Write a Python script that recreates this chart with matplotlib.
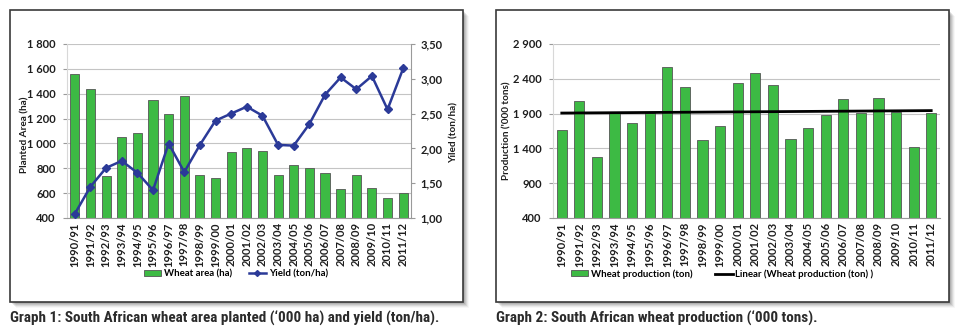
import numpy as np
import matplotlib
matplotlib.use("Agg")
import matplotlib.pyplot as plt
from matplotlib.patches import Rectangle, Patch
from matplotlib.lines import Line2D
from matplotlib.ticker import FuncFormatter

seasons = ["1990/91", "1991/92", "1992/93", "1993/94", "1994/95", "1995/96",
           "1996/97", "1997/98", "1998/99", "1999/00", "2000/01", "2001/02",
           "2002/03", "2003/04", "2004/05", "2005/06", "2006/07", "2007/08",
           "2008/09", "2009/10", "2010/11", "2011/12"]
area = [1560, 1435, 740, 1050, 1080, 1350, 1240, 1380, 745, 720, 935, 960,
        940, 745, 830, 800, 765, 630, 745, 640, 560, 605]
yield_t = [1.06, 1.45, 1.72, 1.82, 1.65, 1.40, 2.07, 1.66, 2.05, 2.40, 2.50,
           2.60, 2.47, 2.05, 2.04, 2.35, 2.77, 3.02, 2.85, 3.04, 2.56, 3.15]
production = [1665, 2080, 1270, 1905, 1770, 1905, 2565, 2280, 1525, 1720,
              2345, 2490, 2315, 1535, 1700, 1885, 2115, 1905, 2125, 1930,
              1425, 1905]

GREEN = "#3dba44"
EDGE = "#555555"
BLUE = "#2b3a98"
GRID = "#c4c4c4"
AXC = "#9a9a9a"
INK = "#1e1e1e"
FONT = ["Lato", "DejaVu Sans"]
CAP_FONT = ["Noto Sans ExtraCondensed", "Noto Sans Condensed", "Roboto Condensed",
            "Liberation Sans Narrow", "Roboto"]

W, H = 960, 332
fig = plt.figure(figsize=(W / 100, H / 100), dpi=100)
plt.rcParams["font.family"] = FONT


def px(x0, y0, x1, y1):            # pixel box -> figure fraction rect
    return [x0 / W, 1 - y1 / H, (x1 - x0) / W, (y1 - y0) / H]


def frame(x0, y0, x1, y1):
    # soft drop shadow, then the white panel with a dark border
    for i, a in enumerate([0.10, 0.10, 0.09, 0.07, 0.05, 0.03]):
        d = 1 + i
        r = Rectangle(((x0 + d) / W, 1 - (y1 + d) / H), (x1 - x0) / W, (y1 - y0) / H,
                      transform=fig.transFigure, facecolor="black", alpha=a,
                      edgecolor="none", zorder=0)
        fig.add_artist(r)
    fig.add_artist(Rectangle((x0 / W, 1 - y1 / H), (x1 - x0) / W, (y1 - y0) / H,
                             transform=fig.transFigure, facecolor="white",
                             edgecolor="#3a3a3a", lw=1.2, zorder=0.5))


def space_fmt(v, _):
    return f"{int(v):,}".replace(",", " ")


def style(ax):
    ax.set_xlim(-0.5, len(seasons) - 0.5)
    ax.set_xticks(range(len(seasons)))
    ax.set_xticklabels(seasons, rotation=90, fontsize=8, fontweight="bold", color=INK)
    ax.tick_params(axis="x", length=0, pad=3)
    ax.tick_params(axis="y", length=3, color=AXC, pad=5, labelsize=8, labelcolor=INK)
    for lab in ax.get_yticklabels():
        lab.set_fontweight("bold")
    ax.grid(True, axis="y", color=GRID, lw=0.8)
    ax.set_axisbelow(True)
    for sp in ("top", "right"):
        ax.spines[sp].set_visible(False)
    ax.spines["bottom"].set_color(AXC)
    ax.spines["left"].set_color("#d8d8d8")
    ax.patch.set_alpha(0)


def caption(x0, text, width):
    # condensed bold caption; shrink only if the available face is too wide
    t = fig.text(x0 / W, 1 - 318 / H, text, family=CAP_FONT, fontstretch="condensed",
                 fontweight="bold", fontsize=13, color="#2b2b2b", va="center")
    fig.canvas.draw()
    w = t.get_window_extent().width
    if w > width:
        t.set_fontsize(13 * width / w)
    return t


LEG = dict(ncol=2, frameon=False, loc="center",
           prop=dict(family=FONT, weight="bold", size=6.9),
           handlelength=1.8, handletextpad=0.3, handleheight=0.6)

frame(10, 10, 463, 302)
frame(496, 10, 949, 302)

# ---- Graph 1: area + yield
x = np.arange(len(seasons))
ax1 = fig.add_axes(px(67, 44, 411, 218), zorder=2)
ax1.bar(x, area, width=0.58, color=GREEN, edgecolor=EDGE, lw=0.6)
ax1.set_ylim(400, 1800)
ax1.set_yticks(range(400, 1801, 200))
ax1.yaxis.set_major_formatter(FuncFormatter(space_fmt))
style(ax1)
for lab in ax1.get_yticklabels():
    lab.set_fontweight("bold")
ax1.set_ylabel("Planted Area (ha)", fontsize=7.2, fontweight="bold", color=INK)
ax1.yaxis.set_label_coords(-0.108, 0.48)

ax1r = ax1.twinx()
ax1r.plot(x, yield_t, color=BLUE, lw=1.8, marker="D", ms=3.6)
ax1r.set_ylim(1.0, 3.5)
ax1r.set_yticks(np.arange(1.0, 3.51, 0.5))
ax1r.yaxis.set_major_formatter(FuncFormatter(lambda v, _: f"{v:.2f}".replace(".", ",")))
ax1r.tick_params(axis="y", length=3, color=AXC, labelsize=8, labelcolor=INK, pad=4)
for lab in ax1r.get_yticklabels():
    lab.set_fontweight("bold")
for sp in ("top", "left", "bottom"):
    ax1r.spines[sp].set_visible(False)
ax1r.spines["right"].set_color(AXC)
ax1r.set_ylabel("Yiled (ton/ha)", fontsize=7.2, fontweight="bold", color=INK)
ax1r.yaxis.set_label_coords(1.113, 0.49)

h1 = [Patch(facecolor=GREEN, edgecolor=EDGE, lw=0.6),
      Line2D([], [], color=BLUE, lw=1.8, marker="D", ms=3)]
fig.legend(h1, ["Wheat area (ha)", "Yield (ton/ha)"],
           bbox_to_anchor=(236 / W, 1 - 274 / H), columnspacing=1.7, **LEG)

# ---- Graph 2: production + linear trend
ax2 = fig.add_axes(px(553, 44, 940, 218), zorder=2)
ax2.bar(x, production, width=0.58, color=GREEN, edgecolor=EDGE, lw=0.6)
k, b = np.polyfit(x, production, 1)
ax2.plot([x[0], x[-1]], [k * x[0] + b, k * x[-1] + b], color="black", lw=2)
ax2.set_ylim(400, 2900)
ax2.set_yticks(range(400, 2901, 500))
ax2.yaxis.set_major_formatter(FuncFormatter(space_fmt))
style(ax2)
for lab in ax2.get_yticklabels():
    lab.set_fontweight("bold")
ax2.set_ylabel("Production ('000 tons)", fontsize=7.2, fontweight="bold", color=INK)
ax2.yaxis.set_label_coords(-0.106, 0.5)

h2 = [Patch(facecolor=GREEN, edgecolor=EDGE, lw=0.6),
      Line2D([], [], color="black", lw=2)]
fig.legend(h2, ["Wheat production (ton)", "Linear (Wheat production (ton) )"],
           bbox_to_anchor=(722 / W, 1 - 274 / H), columnspacing=2.4, **LEG)

# ---- captions
caption(10, "Graph 1: South African wheat area planted (\u2018000 ha) and yield (ton/ha).", 428)
caption(496, "Graph 2: South African wheat production (\u2018000 tons).", 322)

fig.savefig("out.png", dpi=100)
